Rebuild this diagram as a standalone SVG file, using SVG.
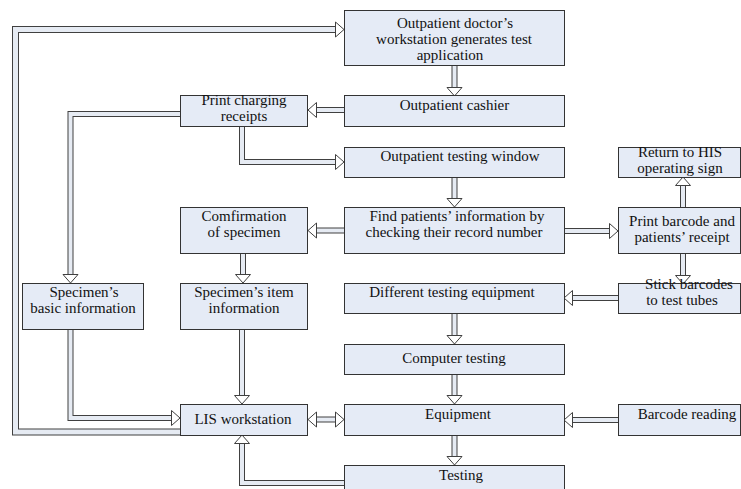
<svg xmlns="http://www.w3.org/2000/svg" xmlns:xlink="http://www.w3.org/1999/xlink" width="741" height="489" viewBox="0 0 741 489">
<style>
.bx{fill:#e5ebf6;stroke:#333;stroke-width:1}
text{font-family:"Liberation Serif","Times New Roman",serif;font-size:15px;fill:#111;text-anchor:middle}
.so{fill:none;stroke:#404040;stroke-width:6;stroke-linejoin:miter}
.si{fill:none;stroke:#e6ebf3;stroke-width:4;stroke-linejoin:miter}
.sow{stroke-width:7}
.siw{stroke-width:5}
.hd{fill:#fff;stroke:#404040;stroke-width:1;stroke-linejoin:miter}
</style>
<defs>
<polygon id="hd" class="hd" points="-7.5,-8.5 7.5,-8.5 0,0"/>
</defs>
<rect width="741" height="489" fill="#fff"/>
<g id="connectors">
<path class="so sow" d="M181,432 H15.5 V29.5 H336"/><path class="si siw" d="M181,432 H15.5 V29.5 H336"/><use xlink:href="#hd" transform="translate(344,29.5) rotate(-90)"/>
<path class="so" d="M454.5,64 V88"/><path class="si" d="M454.5,64 V88"/><use xlink:href="#hd" transform="translate(454.5,96)"/>
<path class="so" d="M345,110 H316"/><path class="si" d="M345,110 H316"/><use xlink:href="#hd" transform="translate(308,110) rotate(90)"/>
<path class="so" d="M181,114 H70.5 V275"/><path class="si" d="M181,114 H70.5 V275"/><use xlink:href="#hd" transform="translate(70.5,283)"/>
<path class="so" d="M242,125 V162 H336"/><path class="si" d="M242,125 V162 H336"/><use xlink:href="#hd" transform="translate(344,162) rotate(-90)"/>
<path class="so" d="M454.5,176 V199"/><path class="si" d="M454.5,176 V199"/><use xlink:href="#hd" transform="translate(454.5,207)"/>
<path class="so" d="M345,230.5 H316"/><path class="si" d="M345,230.5 H316"/><use xlink:href="#hd" transform="translate(308,230.5) rotate(90)"/>
<path class="so" d="M563,231 H610"/><path class="si" d="M563,231 H610"/><use xlink:href="#hd" transform="translate(618,231) rotate(-90)"/>
<path class="so" d="M683,208 V185"/><path class="si" d="M683,208 V185"/><use xlink:href="#hd" transform="translate(683,177) rotate(180)"/>
<path class="so" d="M683,252 V276"/><path class="si" d="M683,252 V276"/><use xlink:href="#hd" transform="translate(683,284)"/>
<path class="so" d="M619,298 H572"/><path class="si" d="M619,298 H572"/><use xlink:href="#hd" transform="translate(564,298) rotate(90)"/>
<path class="so" d="M243,252 V275"/><path class="si" d="M243,252 V275"/><use xlink:href="#hd" transform="translate(243,283)"/>
<path class="so" d="M454.5,312 V336"/><path class="si" d="M454.5,312 V336"/><use xlink:href="#hd" transform="translate(454.5,344)"/>
<path class="so" d="M454.5,373 V396"/><path class="si" d="M454.5,373 V396"/><use xlink:href="#hd" transform="translate(454.5,404)"/>
<path class="so" d="M454.5,434 V457"/><path class="si" d="M454.5,434 V457"/><use xlink:href="#hd" transform="translate(454.5,465)"/>
<path class="so" d="M70.5,328 V418 H172"/><path class="si" d="M70.5,328 V418 H172"/><use xlink:href="#hd" transform="translate(180,418) rotate(-90)"/>
<path class="so" d="M242,328 V396"/><path class="si" d="M242,328 V396"/><use xlink:href="#hd" transform="translate(242,404)"/>
<path class="so" d="M316,419.5 H336"/><path class="si" d="M316,419.5 H336"/><use xlink:href="#hd" transform="translate(308,419.5) rotate(90)"/><use xlink:href="#hd" transform="translate(344,419.5) rotate(-90)"/>
<path class="so" d="M619,420 H572"/><path class="si" d="M619,420 H572"/><use xlink:href="#hd" transform="translate(564,420) rotate(90)"/>
<path class="so" d="M345,483 H242 V443"/><path class="si" d="M345,483 H242 V443"/><use xlink:href="#hd" transform="translate(242,435) rotate(180)"/>
</g>
<g id="n-doctor"><rect class="bx" x="344.5" y="10.5" width="220" height="55"/><text x="455" y="28">Outpatient doctor’s</text><text x="454" y="44">workstation generates test</text><text x="450" y="60">application</text></g>
<g id="n-cashier"><rect class="bx" x="344.5" y="95.5" width="220" height="31"/><text x="454.5" y="110">Outpatient cashier</text></g>
<g id="n-print-charging"><rect class="bx" x="180.5" y="95.5" width="127" height="31"/><text x="244" y="105">Print charging</text><text x="244" y="121">receipts</text></g>
<g id="n-testing-window"><rect class="bx" x="344.5" y="147.5" width="220" height="30"/><text x="460" y="161">Outpatient testing window</text></g>
<g id="n-return-his"><rect class="bx" x="618.5" y="147.5" width="122" height="30"/><text x="680" y="157">Return to HIS</text><text x="680" y="173">operating sign</text></g>
<g id="n-find"><rect class="bx" x="344.5" y="207.5" width="220" height="46"/><text x="457" y="221">Find patients’ information by</text><text x="454" y="237">checking their record number</text></g>
<g id="n-confirm"><rect class="bx" x="180.5" y="207.5" width="127" height="46"/><text x="244" y="221">Comfirmation</text><text x="244" y="237">of specimen</text></g>
<g id="n-print-barcode"><rect class="bx" x="618.5" y="207.5" width="122" height="46"/><text x="682" y="226">Print barcode and</text><text x="682" y="242">patients’ receipt</text></g>
<g id="n-basic-info"><rect class="bx" x="22.5" y="283.5" width="121" height="46"/><text x="84" y="297">Specimen’s</text><text x="83" y="313">basic information</text></g>
<g id="n-item-info"><rect class="bx" x="180.5" y="283.5" width="127" height="46"/><text x="244" y="297">Specimen’s item</text><text x="244" y="313">information</text></g>
<g id="n-different"><rect class="bx" x="344.5" y="283.5" width="220" height="30"/><text x="452" y="297">Different testing equipment</text></g>
<g id="n-stick"><rect class="bx" x="618.5" y="283.5" width="122" height="30"/><text x="689" y="289">Stick barcodes</text><text x="682" y="305">to test tubes</text></g>
<g id="n-computer"><rect class="bx" x="344.5" y="344.5" width="220" height="30"/><text x="454" y="363">Computer testing</text></g>
<g id="n-equipment"><rect class="bx" x="344.5" y="404.5" width="220" height="31"/><text x="458" y="419">Equipment</text></g>
<g id="n-lis"><rect class="bx" x="180.5" y="404.5" width="127" height="31"/><text x="243" y="424">LIS workstation</text></g>
<g id="n-barcode-reading"><rect class="bx" x="618.5" y="404.5" width="122" height="31"/><text x="687" y="419">Barcode reading</text></g>
<g id="n-testing"><rect class="bx" x="344.5" y="465.5" width="220" height="30"/><text x="461" y="480">Testing</text></g>
</svg>
